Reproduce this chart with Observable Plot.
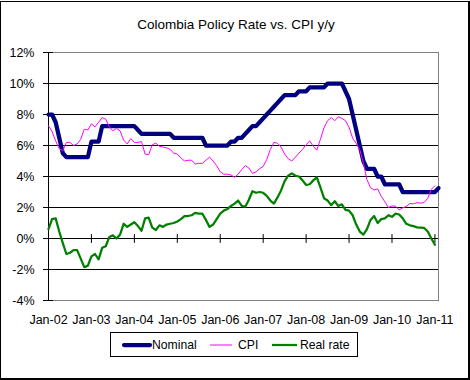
<!DOCTYPE html>
<html>
<head>
<meta charset="utf-8">
<script src="https://cdn.jsdelivr.net/npm/d3@7"></script>
<script src="https://cdn.jsdelivr.net/npm/@observablehq/plot@0.6"></script>
<style>
  body { margin: 0; background: #fff; font-family: Arial, "Liberation Sans", sans-serif; }
  #wrap { position: relative; width: 470px; height: 380px; overflow: hidden; background: #fff; }
  #border { position: absolute; left: 0; top: 1px; width: 467px; height: 376px;
            border-left: 1px solid #000; border-top: 1px solid #000;
            border-right: 2px solid #000; border-bottom: 2px solid #000; }
  #title { position: absolute; left: 0; top: 17px; width: 472px; text-align: center;
           font-size: 13.5px; line-height: 15px; color: #000; }
  #chart { position: absolute; left: 0; top: 0; }
  #legend { position: absolute; left: 110px; top: 332px; }
</style>
</head>
<body>
<div id="wrap">
  <div id="border"></div>
  <div id="title">Colombia Policy Rate vs. CPI y/y</div>
  <div id="chart"></div>
  <div id="legend"></div>
</div>
<script>
// ---- data (monthly, index 0 = Jan-02) ----
const xLabels = ["Jan-02","Jan-03","Jan-04","Jan-05","Jan-06","Jan-07","Jan-08","Jan-09","Jan-10","Jan-11"];
const xTicks = [0, 12, 24, 36, 48, 60, 72, 84, 96, 108];
const yTicks = [-4, -2, 0, 2, 4, 6, 8, 10, 12];
const gridValues = [-2, 0, 2, 4, 6, 8, 10];
const seriesNames = ["Nominal", "CPI", "Real rate"];
const seriesColors = ["#000080", "#FF00FF", "#008000"];

const nominal = [
  8.0, 8.0, 7.5, 6.5, 5.5,
  5.25, 5.25, 5.25, 5.25, 5.25, 5.25, 5.25,
  6.25, 6.25, 6.25,
  7.25, 7.25, 7.25, 7.25, 7.25, 7.25, 7.25, 7.25, 7.25, 7.25,
  7.0,
  6.75, 6.75, 6.75, 6.75, 6.75, 6.75, 6.75, 6.75, 6.75,
  6.5, 6.5, 6.5, 6.5, 6.5, 6.5, 6.5, 6.5, 6.5,
  6.0, 6.0, 6.0, 6.0, 6.0, 6.0, 6.0,
  6.25, 6.25, 6.5, 6.5,
  6.75, 7.0, 7.25, 7.25, 7.5, 7.75, 8.0, 8.25, 8.5, 8.75, 9.0,
  9.25, 9.25, 9.25, 9.25,
  9.5, 9.5, 9.5,
  9.75, 9.75, 9.75, 9.75, 9.75,
  10.0, 10.0, 10.0, 10.0, 10.0,
  9.5, 9.0, 8.0, 7.0, 6.0, 5.0,
  4.5, 4.5, 4.5,
  4.0, 4.0,
  3.5, 3.5, 3.5, 3.5, 3.5,
  3.0, 3.0, 3.0, 3.0, 3.0, 3.0, 3.0, 3.0, 3.0, 3.0,
  3.25
];

const cpi = [
  7.27, 6.9, 6.3, 5.8, 5.65, 6.2, 6.2, 6.0, 6.1, 6.4,
  7.05, 7.0, 7.4, 7.2, 7.5, 7.8, 7.7, 7.2, 6.95, 7.1,
  6.95, 6.35, 6.1, 6.45, 6.2, 6.2, 6.25, 5.45, 5.4, 6.05,
  6.15, 5.95, 5.9, 5.85, 5.75, 5.5, 5.45, 5.2, 5.0, 5.05,
  5.05, 4.8, 4.85, 4.85, 5.05, 5.25, 5.0, 4.7, 4.3, 4.15,
  4.15, 4.1, 3.95, 4.15, 4.45, 4.7, 4.55, 4.2, 4.3, 4.5,
  4.65, 5.1, 5.75, 6.2, 6.15, 5.9, 5.45, 5.15, 5.0, 5.25,
  5.5, 5.75, 6.05, 6.3, 5.95, 5.7, 6.4, 7.15, 7.6, 7.8,
  7.6, 7.85, 7.75, 7.6, 7.18, 6.47, 6.14, 5.73, 4.85, 3.8,
  3.28, 3.13, 3.2, 2.72, 2.37, 2.0, 2.1, 2.09, 1.84, 1.98,
  2.07, 2.25, 2.24, 2.31, 2.28, 2.33, 2.59, 3.17, 3.40
];

const real = [
  0.6, 1.25, 1.3, 0.45, -0.3, -1.0, -0.92, -0.75, -0.75, -1.3,
  -1.85, -1.75, -1.15, -1.0, -1.35, -0.6, -0.5, 0.1, 0.2, 0.0,
  0.25, 0.95, 0.75, 0.9, 1.05, 0.8, 0.5, 1.3, 1.35, 0.7,
  0.55, 0.85, 0.75, 0.9, 0.95, 1.0, 1.1, 1.25, 1.45, 1.45,
  1.5, 1.65, 1.6, 1.6, 1.2, 0.75, 0.9, 1.25, 1.6, 1.8,
  1.9, 2.1, 2.25, 2.45, 2.1, 2.05, 2.5, 3.05, 2.95, 3.0,
  2.95, 2.75, 2.45, 2.25, 2.65, 3.1, 3.7, 4.05, 4.2, 4.05,
  4.0, 3.75, 3.45, 3.5, 3.75, 3.95, 3.3, 2.6, 2.45, 2.15,
  2.4, 2.1, 2.2, 1.85, 1.8, 1.5, 0.9, 0.45, 0.25, 0.6,
  1.2, 1.45, 1.0, 1.25, 1.3, 1.5, 1.4, 1.6, 1.55, 1.3,
  0.95, 0.85, 0.8, 0.72, 0.7, 0.68, 0.45, 0.0, -0.4
];

const toRows = (arr) => arr.map((v, i) => ({m: i, v}));

const tickShape = {
  draw(context, l) { context.moveTo(0, 0); context.lineTo(0, -l); }
};

const chart = Plot.plot({
  width: 470,
  height: 330,
  marginLeft: 48,
  marginRight: 32,
  marginTop: 52,
  marginBottom: 30,
  style: {background: "transparent", fontFamily: "Arial, 'Liberation Sans', sans-serif", fontSize: "12.5px", color: "#000", overflow: "visible"},
  x: {domain: [0, 109]},
  y: {domain: [-4, 12]},
  marks: [
    Plot.frame({stroke: "#808080"}),
    Plot.ruleY(gridValues, {stroke: "#000", strokeWidth: 1}),
    Plot.ruleX([0], {stroke: "#000"}),
    Plot.axisY({ticks: yTicks, tickFormat: d => d + "%", tickSize: 5, tickPadding: 9, label: null}),
    Plot.axisY({ticks: yTicks, tickSize: -5, fill: "none", label: null}),
    Plot.axisX({ticks: xTicks, tickFormat: d => xLabels[d / 12], tickSize: 0, tickPadding: 15, label: null}),
    Plot.vector(xTicks, {x: d => d, y: () => 0, length: 8, rotate: 0, anchor: "middle", stroke: "#000", strokeWidth: 1, shape: tickShape}),
    Plot.line(toRows(nominal), {x: "m", y: "v", stroke: seriesColors[0], strokeWidth: 4.25, strokeLinejoin: "round", strokeLinecap: "round"}),
    Plot.line(toRows(cpi), {x: "m", y: "v", stroke: seriesColors[1], strokeWidth: 1, strokeLinejoin: "round"}),
    Plot.line(toRows(real), {x: "m", y: "v", stroke: seriesColors[2], strokeWidth: 2.25, strokeLinejoin: "round", strokeLinecap: "round"})
  ]
});
document.getElementById("chart").appendChild(chart);

// ---- legend ----
const legendItems = [
  {x1: 14, x2: 40, tx: 42, w: 4.25, cap: "round"},
  {x1: 100, x2: 122, tx: 128, w: 1, cap: "butt"},
  {x1: 162, x2: 187, tx: 190, w: 2.25, cap: "butt"}
];
const lg = d3.select("#legend").append("svg").attr("width", 248).attr("height", 25)
  .style("font-family", "Arial, 'Liberation Sans', sans-serif").style("font-size", "12.2px");
lg.append("rect").attr("x", 0.5).attr("y", 0.5).attr("width", 247).attr("height", 24)
  .attr("fill", "#fff").attr("stroke", "#000");
legendItems.forEach((it, i) => {
  lg.append("line").attr("x1", it.x1).attr("x2", it.x2).attr("y1", 13).attr("y2", 13)
    .attr("stroke", seriesColors[i]).attr("stroke-width", it.w).attr("stroke-linecap", it.cap);
  lg.append("text").attr("x", it.tx).attr("y", 17).attr("fill", "#000").text(seriesNames[i]);
});
</script>
</body>
</html>
